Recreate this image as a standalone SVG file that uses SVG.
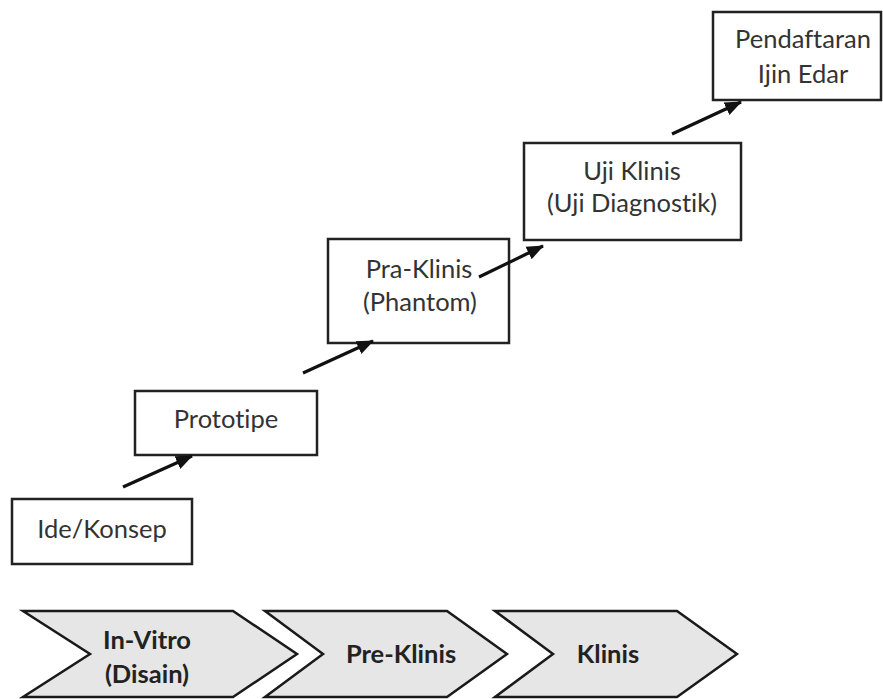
<svg xmlns="http://www.w3.org/2000/svg" width="883" height="699" viewBox="0 0 883 699">
<style>
.box{fill:#fff;stroke:#222;stroke-width:2.5}
.chev{fill:#e6e6e6;stroke:#1a1a1a;stroke-width:2.5;stroke-linejoin:miter}
.t{font-family:Lato,"Open Sans","Liberation Sans",sans-serif;font-size:25.5px;fill:#333;text-anchor:middle;font-variant-ligatures:none}
.tb{font-family:Lato,"Open Sans","Liberation Sans",sans-serif;font-size:25.5px;font-weight:bold;fill:#222;text-anchor:middle;font-variant-ligatures:none}
.arr{stroke:#111;stroke-width:3.2;fill:none;marker-end:url(#ah)}
</style>
<defs>
<marker id="ah" markerUnits="userSpaceOnUse" markerWidth="18" markerHeight="16" refX="16" refY="8" orient="auto">
<path d="M0,1 L17,8 L0,15 Z" fill="#111"/>
</marker>
</defs>
<rect width="883" height="699" fill="#fff"/>
<g id="ide-konsep">
<rect class="box" x="12" y="499" width="180" height="65"/>
<text class="t" x="102" y="538">Ide/Konsep</text>
</g>
<g id="prototipe">
<rect class="box" x="135" y="391" width="182" height="64"/>
<text class="t" x="226" y="428">Prototipe</text>
</g>
<g id="pra-klinis">
<rect class="box" x="328" y="239" width="181" height="104"/>
<text class="t" x="419" y="278">Pra-Klinis</text>
<text class="t" x="420" y="311">(Phantom)</text>
</g>
<g id="uji-klinis">
<rect class="box" x="524" y="143" width="217" height="97"/>
<text class="t" x="632" y="180">Uji Klinis</text>
<text class="t" x="632" y="212">(Uji Diagnostik)</text>
</g>
<g id="pendaftaran">
<rect class="box" x="713" y="12" width="168" height="88"/>
<text class="t" x="803" y="48">Pendaftaran</text>
<text class="t" x="803" y="83">Ijin Edar</text>
</g>
<g id="in-vitro">
<path class="chev" d="M23,611 L233,611 L297,654 L233,697 L23,697 L90,654 Z"/>
<text class="tb" x="147" y="649">In-Vitro</text>
<text class="tb" x="147" y="683">(Disain)</text>
</g>
<g id="pre-klinis">
<path class="chev" d="M265,611 L447,611 L507,654 L447,697 L265,697 L323,654 Z"/>
<text class="tb" x="401" y="663">Pre-Klinis</text>
</g>
<g id="klinis">
<path class="chev" d="M495,611 L677,611 L737,654 L677,697 L495,697 L553,654 Z"/>
<text class="tb" x="608" y="663">Klinis</text>
</g>
<g id="connectors">
<line class="arr" x1="123" y1="487" x2="192" y2="456"/>
<line class="arr" x1="303" y1="373" x2="373" y2="341"/>
<line class="arr" x1="479" y1="277" x2="543" y2="246"/>
<line class="arr" x1="672" y1="134" x2="741" y2="102"/>
</g>
</svg>
